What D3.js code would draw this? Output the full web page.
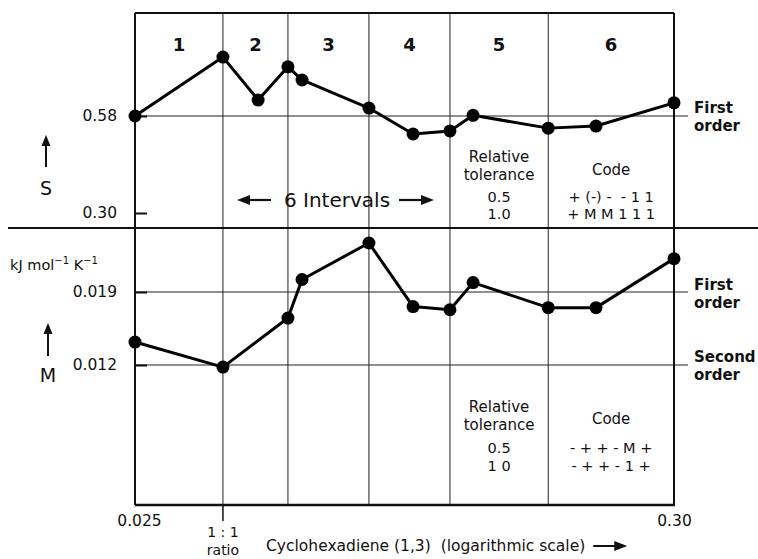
<!DOCTYPE html>
<html><head><meta charset="utf-8">
<script src="https://cdn.jsdelivr.net/npm/d3@7"></script>
<style>
body{margin:0;background:#fff;}
text{font-family:"DejaVu Sans",sans-serif;fill:#111;}
</style></head>
<body><svg id="c" width="758" height="559"></svg>
<script>
// ---- data ----
const intervalLabels = ["1","2","3","4","5","6"];
const intervalBounds = [0.025, 0.0375, 0.0506, 0.0735, 0.1068, 0.168, 0.30];
const concS = [0.025, 0.0375, 0.0441, 0.0506, 0.054, 0.0735, 0.0901, 0.1068, 0.1188, 0.168, 0.2094, 0.30];
const valS  = [0.580, 0.750, 0.626, 0.722, 0.684, 0.603, 0.528, 0.537, 0.582, 0.545, 0.551, 0.618];
const concM = [0.025, 0.0375, 0.0506, 0.054, 0.0735, 0.0901, 0.1068, 0.1188, 0.168, 0.2094, 0.30];
const valM  = [0.0142, 0.0118, 0.0165, 0.0202, 0.0237, 0.0176, 0.0173, 0.0199, 0.0175, 0.0175, 0.0222];
const ticksS = [0.30, 0.58];
const ticksM = [0.012, 0.019];
const ticksX = [0.025, 0.30];
const tolTop = ["0.5","1.0"], codeTop = ["+ (-) -  - 1 1","+ M M 1 1 1"];
const tolBot = ["0.5","1 0"], codeBot = ["- + + - M +","- + + - 1 +"];

const FS = 15.5;
const svg = d3.select("#c");
const L = 135, R = 674, T = 13, B = 505, MID = 228;
const x = d3.scaleLog().domain([0.025, 0.30]).range([L, R]);
const yS = d3.scaleLinear().domain([0.30, 0.58]).range([213, 116]);
const yM = d3.scaleLinear().domain([0.012, 0.019]).range([365, 292]);

// interval verticals
svg.selectAll("line.iv").data(intervalBounds.slice(1, -1)).enter().append("line")
  .attr("x1", d => x(d)).attr("x2", d => x(d)).attr("y1", T).attr("y2", B)
  .attr("stroke", "#222").attr("stroke-width", 1);

// reference lines
svg.append("line").attr("x1", L).attr("x2", 688).attr("y1", yS(0.58)).attr("y2", yS(0.58)).attr("stroke", "#222").attr("stroke-width", 1.2);
ticksM.forEach(v => {
  svg.append("line").attr("x1", L).attr("x2", 688).attr("y1", yM(v)).attr("y2", yM(v)).attr("stroke", "#222").attr("stroke-width", 1.2);
});

// frame
svg.append("line").attr("x1", L).attr("x2", R).attr("y1", T).attr("y2", T).attr("stroke", "#111").attr("stroke-width", 2);
svg.append("line").attr("x1", L).attr("x2", L).attr("y1", T).attr("y2", B).attr("stroke", "#111").attr("stroke-width", 2);
svg.append("line").attr("x1", R).attr("x2", R).attr("y1", T).attr("y2", B).attr("stroke", "#111").attr("stroke-width", 2);
svg.append("line").attr("x1", L).attr("x2", R + 1).attr("y1", B).attr("y2", B).attr("stroke", "#111").attr("stroke-width", 2.5);
svg.append("line").attr("x1", 8).attr("x2", 758).attr("y1", MID).attr("y2", MID).attr("stroke", "#111").attr("stroke-width", 2);

// y axes
const axS = d3.axisLeft(yS).tickValues(ticksS).tickFormat(d3.format(".2f")).tickSizeInner(-12).tickSizeOuter(0).tickPadding(18);
const gS = svg.append("g").attr("transform", `translate(${L},0)`).call(axS);
const axM = d3.axisLeft(yM).tickValues(ticksM).tickFormat(d3.format(".3f")).tickSizeInner(-12).tickSizeOuter(0).tickPadding(18);
const gM = svg.append("g").attr("transform", `translate(${L},0)`).call(axM);
[gS, gM].forEach(g => {
  g.select(".domain").remove();
  g.selectAll(".tick line").attr("stroke", "#111").attr("stroke-width", 2);
  g.selectAll(".tick text").attr("font-size", FS).attr("font-family", "DejaVu Sans").attr("fill", "#111");
});

// x axis
const axX = d3.axisBottom(x).tickValues(ticksX).tickFormat(d => d === 0.30 ? "0.30" : "0.025").tickSize(0).tickPadding(10);
const gX = svg.append("g").attr("transform", `translate(0,${B})`).call(axX);
gX.select(".domain").remove();
gX.selectAll(".tick text").attr("font-size", FS).attr("font-family", "DejaVu Sans").attr("fill", "#111");
gX.selectAll(".tick").filter(d => d === 0.025).select("text").attr("dx", 4);
const xr = x(intervalBounds[1]);
svg.append("line").attr("x1", xr).attr("x2", xr).attr("y1", B).attr("y2", 521).attr("stroke", "#111").attr("stroke-width", 1.5);
svg.append("text").attr("x", xr).attr("y", 537).attr("text-anchor", "middle").attr("font-size", 14).text("1 : 1");
svg.append("text").attr("x", xr).attr("y", 555).attr("text-anchor", "middle").attr("font-size", 14).text("ratio");
const title = svg.append("text").attr("x", 266).attr("y", 551).attr("font-size", FS).attr("xml:space", "preserve").text("Cyclohexadiene (1,3)  (logarithmic scale)");
const tw = title.node().getComputedTextLength();
const ax0 = 266 + tw + 8;
svg.append("line").attr("x1", ax0).attr("x2", ax0 + 24).attr("y1", 546).attr("y2", 546).attr("stroke", "#111").attr("stroke-width", 2);
svg.append("path").attr("d", `M${ax0 + 34},546 L${ax0 + 21},541 L${ax0 + 21},551 Z`).attr("fill", "#111");

// interval labels
svg.selectAll("text.il").data(intervalLabels).enter().append("text")
  .attr("x", (d, i) => (x(intervalBounds[i]) + x(intervalBounds[i + 1])) / 2)
  .attr("y", 51).attr("text-anchor", "middle").attr("font-size", 18).attr("font-weight", "bold").text(d => d);

// series lines
const lineS = d3.line().x(d => x(d[0])).y(d => yS(d[1]));
const lineM = d3.line().x(d => x(d[0])).y(d => yM(d[1]));
const dS = concS.map((c, i) => [c, valS[i]]);
const dM = concM.map((c, i) => [c, valM[i]]);
svg.append("path").datum(dS).attr("d", lineS).attr("fill", "none").attr("stroke", "#000").attr("stroke-width", 3).attr("stroke-linejoin", "round");
svg.append("path").datum(dM).attr("d", lineM).attr("fill", "none").attr("stroke", "#000").attr("stroke-width", 3).attr("stroke-linejoin", "round");
svg.selectAll("circle.s").data(dS).enter().append("circle").attr("cx", d => x(d[0])).attr("cy", d => yS(d[1])).attr("r", 6.5).attr("fill", "#000");
svg.selectAll("circle.m").data(dM).enter().append("circle").attr("cx", d => x(d[0])).attr("cy", d => yM(d[1])).attr("r", 6.5).attr("fill", "#000");

// y labels with arrows
function upArrow(cx, y1, y2) {
  svg.append("line").attr("x1", cx).attr("x2", cx).attr("y1", y1).attr("y2", y2 + 8).attr("stroke", "#111").attr("stroke-width", 2);
  svg.append("path").attr("d", `M${cx},${y2} L${cx - 4.5},${y2 + 11} L${cx + 4.5},${y2 + 11} Z`).attr("fill", "#111");
}
upArrow(46, 167, 135);
svg.append("text").attr("x", 46).attr("y", 195).attr("text-anchor", "middle").attr("font-size", 19).text("S");
upArrow(48, 356, 323);
svg.append("text").attr("x", 48).attr("y", 382).attr("text-anchor", "middle").attr("font-size", 19).text("M");
const unit = svg.append("text").attr("x", 10).attr("y", 270).attr("font-size", 14.5);
unit.append("tspan").text("kJ mol");
unit.append("tspan").attr("dy", -6).attr("font-size", 10).text("−1");
unit.append("tspan").attr("dy", 6).text(" K");
unit.append("tspan").attr("dy", -6).attr("font-size", 10).text("−1");

// "6 Intervals" with arrows
svg.append("text").attr("x", 337).attr("y", 207).attr("text-anchor", "middle").attr("font-size", 20).text("6 Intervals");
svg.append("line").attr("x1", 248).attr("x2", 271).attr("y1", 200).attr("y2", 200).attr("stroke", "#111").attr("stroke-width", 2.2);
svg.append("path").attr("d", "M237,200 L250,195 L250,205 Z").attr("fill", "#111");
svg.append("line").attr("x1", 399).attr("x2", 423).attr("y1", 200).attr("y2", 200).attr("stroke", "#111").attr("stroke-width", 2.2);
svg.append("path").attr("d", "M434,200 L421,195 L421,205 Z").attr("fill", "#111");

// tables
const cTol = (x(intervalBounds[4]) + x(intervalBounds[5])) / 2;
const cCode = (x(intervalBounds[5]) + x(intervalBounds[6])) / 2;
function table(yRel, yCode, yRows, tol, code) {
  svg.append("text").attr("x", cTol).attr("y", yRel).attr("text-anchor", "middle").attr("font-size", 15).text("Relative");
  svg.append("text").attr("x", cTol).attr("y", yRel + 18).attr("text-anchor", "middle").attr("font-size", 15).text("tolerance");
  svg.append("text").attr("x", cCode).attr("y", yCode).attr("text-anchor", "middle").attr("font-size", 15).text("Code");
  tol.forEach((t, i) => svg.append("text").attr("x", cTol).attr("y", yRows[i]).attr("text-anchor", "middle").attr("font-size", 14.5).text(t));
  code.forEach((t, i) => svg.append("text").attr("x", cCode).attr("y", yRows[i]).attr("text-anchor", "middle").attr("font-size", 14.5).attr("xml:space", "preserve").text(t));
}
table(162, 175, [202, 219], tolTop, codeTop);
table(412, 424, [453, 471], tolBot, codeBot);

// right labels
function rlab(y, a, b) {
  svg.append("text").attr("x", 694).attr("y", y).attr("font-size", 15).attr("font-weight", "bold").text(a);
  svg.append("text").attr("x", 694).attr("y", y + 18).attr("font-size", 15).attr("font-weight", "bold").text(b);
}
rlab(113, "First", "order");
rlab(290, "First", "order");
rlab(362, "Second", "order");
</script></body></html>
